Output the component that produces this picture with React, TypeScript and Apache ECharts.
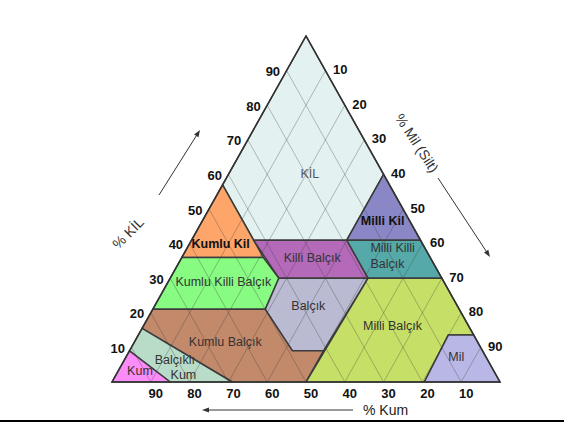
import { useEffect, useRef } from 'react';
import * as echarts from 'echarts';

// Ternary points are [sand %, clay %]; silt = 100 - sand - clay.
const SAND_TICKS = [90, 80, 70, 60, 50, 40, 30, 20, 10];
const CLAY_TICKS = [10, 20, 30, 40, 50, 60, 70, 80, 90];
const SILT_TICKS = [10, 20, 30, 40, 50, 60, 70, 80, 90];
const GRID_STEPS = [10, 20, 30, 40, 50, 60, 70, 80, 90];

const kil = [[0, 100], [43, 57], [43, 41], [19, 41], [0, 60]];
const kumluKil = [[43, 57], [64, 36], [43, 36]];
const milliKil = [[0, 60], [19, 41], [0, 41]];
const killiBalcik = [[43, 41], [19, 41], [19, 30], [42, 30]];
const milliKilliBalcik = [[19, 41], [0, 41], [0, 30], [19, 30]];
const kumluKilliBalcik = [[64, 36], [43, 36], [42, 30], [50, 21], [79, 21]];
const balcik = [[42, 30], [19, 30], [41, 9], [49, 9], [50, 21]];
const kumluBalcik = [[79, 21], [50, 21], [49, 9], [41, 9], [50, 0], [69, 0], [84.5, 15.5]];
const milliBalcik = [[19, 30], [0, 30], [0, 13.6], [6.5, 13.6], [19.5, 0], [50, 0]];
const mil = [[6.5, 13.6], [0, 13.6], [0, 0], [19.5, 0]];
const balcikliKum = [[84.5, 15.5], [69, 0], [85, 0], [91, 9]];
const kum = [[91, 9], [85, 0], [100, 0]];

const REGION_NAMES = ['KİL', 'Kumlu Kil', 'Milli Kil', 'Killi Balçık', 'Milli Killi Balçık', 'Kumlu Killi Balçık', 'Balçık', 'Kumlu Balçık', 'Milli Balçık', 'Mil', 'Balçıklı Kum', 'Kum'];
const REGION_SHAPES = [kil, kumluKil, milliKil, killiBalcik, milliKilliBalcik, kumluKilliBalcik, balcik, kumluBalcik, milliBalcik, mil, balcikliKum, kum];

// Region label texts and their anchor points [sand, clay]
const LABEL_TEXTS = ['KİL', 'Kumlu Kil', 'Milli Kil', 'Killi Balçık', 'Milli Killi\nBalçık', 'Kumlu Killi Balçık', 'Balçık', 'Kumlu Balçık', 'Milli Balçık', 'Mil', 'Balçıklı', 'Kum', 'Kum'];
const LABEL_POINTS = [[19, 60], [52, 40], [7, 46.5], [30.5, 35.8], [15.2, 36.4], [56.8, 29], [38.4, 22], [65, 11.6], [19.6, 16.2], [7.7, 7.1], [80.6, 6.4], [80.6, 2.0], [91.2, 3.2]];

const COLORS: Record<string, string> = {
  'KİL': '#e3f1f1',
  'Kumlu Kil': '#fea66a',
  'Milli Kil': '#8a87c6',
  'Killi Balçık': '#b469b9',
  'Milli Killi Balçık': '#56a9a9',
  'Kumlu Killi Balçık': '#87fb82',
  'Balçık': '#babad2',
  'Kumlu Balçık': '#c2896b',
  'Milli Balçık': '#c6df66',
  'Mil': '#b9b7e5',
  'Balçıklı Kum': '#b9dcc9',
  'Kum': '#fb8cf8',
};
const BOLD_LABELS = ['Kumlu Kil', 'Milli Kil'];
const FONT = 'Arial, "Liberation Sans", sans-serif';

const toCart = (p: number[]) => [100 - p[0] - p[1] / 2, p[1]];

function arrow(x1: number, y1: number, x2: number, y2: number) {
  const len = Math.hypot(x2 - x1, y2 - y1);
  const dx = (x2 - x1) / len;
  const dy = (y2 - y1) / len;
  const hl = 7;
  const hw = 2.6;
  const bx = x2 - dx * hl;
  const by = y2 - dy * hl;
  return [
    { type: 'line', shape: { x1, y1, x2: bx, y2: by }, style: { stroke: '#333', lineWidth: 1 } },
    {
      type: 'polygon',
      shape: { points: [[x2, y2], [bx - dy * hw, by + dx * hw], [bx + dy * hw, by - dx * hw]] },
      style: { fill: '#333' },
    },
  ];
}

export default function App() {
  const ref = useRef<HTMLDivElement>(null);
  useEffect(() => {
    if (!ref.current) return;
    const chart = echarts.init(ref.current, undefined, { renderer: 'svg' });

    const gridLines: number[][][] = [];
    GRID_STEPS.forEach((t) => {
      gridLines.push([toCart([t, 100 - t]), toCart([t, 0])]); // constant sand
      gridLines.push([toCart([0, 100 - t]), toCart([100 - t, 0])]); // constant silt
    });

    const option: any = {
      animation: false,
      grid: { left: 112, top: 36, width: 388, height: 346 },
      xAxis: { type: 'value', min: 0, max: 100, show: false },
      yAxis: { type: 'value', min: 0, max: 100, show: false },
      graphic: [
        { type: 'rect', shape: { x: 0, y: 420, width: 564, height: 2 }, style: { fill: '#000' } },
        ...arrow(159, 195, 200, 130),
        ...arrow(438, 178, 490, 257),
        ...arrow(353, 410, 202, 410),
        {
          type: 'text', x: 128, y: 233, rotation: Math.PI / 4,
          style: { text: '% KİL', fill: '#333', font: `14px ${FONT}`, align: 'center', verticalAlign: 'middle' },
        },
        {
          type: 'text', x: 417, y: 143, rotation: -0.995,
          style: { text: '% Mil (Silt)', fill: '#333', font: `14px ${FONT}`, align: 'center', verticalAlign: 'middle' },
        },
        {
          type: 'text', x: 363, y: 410,
          style: { text: '% Kum', fill: '#222', font: `14px ${FONT}`, align: 'left', verticalAlign: 'middle' },
        },
      ],
      series: [
        {
          type: 'custom',
          coordinateSystem: 'cartesian2d',
          silent: true,
          z: 2,
          data: LABEL_POINTS.slice(0, REGION_SHAPES.length).map((p) => toCart(p)),
          renderItem: (params: any, api: any) => {
            const name = REGION_NAMES[params.dataIndex];
            const pts = REGION_SHAPES[params.dataIndex].map((p) => api.coord(toCart(p)));
            return {
              type: 'polygon',
              shape: { points: pts },
              style: { fill: COLORS[name], stroke: '#3c3c3c', lineWidth: 1.5, lineJoin: 'round' },
            };
          },
        },
        {
          type: 'custom',
          coordinateSystem: 'cartesian2d',
          silent: true,
          z: 3,
          data: gridLines.map((l) => l[0]),
          renderItem: (params: any, api: any) => {
            const l = gridLines[params.dataIndex];
            const a = api.coord(l[0]);
            const b = api.coord(l[1]);
            return {
              type: 'line',
              shape: { x1: a[0], y1: a[1], x2: b[0], y2: b[1] },
              style: { stroke: 'rgba(60,60,60,0.32)', lineWidth: 1 },
            };
          },
        },
        {
          type: 'custom',
          coordinateSystem: 'cartesian2d',
          silent: true,
          z: 4,
          data: [toCart([0, 100])],
          renderItem: (_params: any, api: any) => {
            const pts = [[0, 100], [100, 0], [0, 0]].map((p) => api.coord(toCart(p)));
            return {
              type: 'polygon',
              shape: { points: pts },
              style: { fill: 'none', stroke: '#333', lineWidth: 1.5 },
            };
          },
        },
        {
          type: 'custom',
          coordinateSystem: 'cartesian2d',
          silent: true,
          z: 5,
          data: LABEL_POINTS.map((p) => toCart(p)),
          renderItem: (params: any, api: any) => {
            const i = params.dataIndex;
            const text = LABEL_TEXTS[i];
            const c = api.coord([api.value(0), api.value(1)]);
            const bold = BOLD_LABELS.includes(text);
            const multi = text.includes('\n');
            return {
              type: 'text',
              x: c[0],
              y: c[1],
              style: {
                text,
                fill: bold ? '#111' : text === 'KİL' ? '#555' : '#333',
                font: `${bold ? 'bold ' : ''}12.5px ${FONT}`,
                align: multi ? 'left' : 'center',
                verticalAlign: 'middle',
                lineHeight: 15.5,
              },
            };
          },
        },
        {
          type: 'custom',
          coordinateSystem: 'cartesian2d',
          silent: true,
          z: 5,
          data: [
            ...SAND_TICKS.map((t) => toCart([t, 0])),
            ...CLAY_TICKS.map((c) => toCart([100 - c, c])),
            ...SILT_TICKS.map((t) => toCart([0, 100 - t])),
          ],
          renderItem: (params: any, api: any) => {
            const i = params.dataIndex;
            const c = api.coord([api.value(0), api.value(1)]);
            let text = '';
            let x = c[0];
            let y = c[1];
            let align = 'center';
            if (i < SAND_TICKS.length) {
              text = String(SAND_TICKS[i]);
              x += 5; y += 11;
            } else if (i < SAND_TICKS.length + CLAY_TICKS.length) {
              text = String(CLAY_TICKS[i - SAND_TICKS.length]);
              x -= 6.5; y += 1; align = 'right';
            } else {
              text = String(SILT_TICKS[i - SAND_TICKS.length - CLAY_TICKS.length]);
              x += 7.5; y -= 1; align = 'left';
            }
            return {
              type: 'text',
              x, y,
              style: { text, fill: '#111', font: `bold 13px ${FONT}`, align, verticalAlign: 'middle' },
            };
          },
        },
      ],
    };
    chart.setOption(option);
    return () => chart.dispose();
  }, []);
  return <div ref={ref} style={{ position: 'absolute', left: 0, top: 0, width: 564, height: 422, background: '#fff' }} />;
}
